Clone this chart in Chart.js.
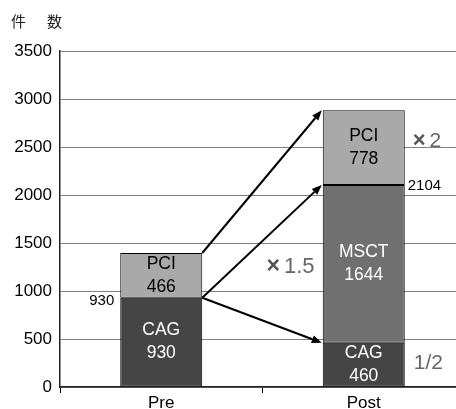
<!DOCTYPE html>
<html>
<head>
<meta charset="utf-8">
<script src="https://cdn.jsdelivr.net/npm/chart.js@4/dist/chart.umd.min.js"></script>
<style>
  html, body { margin: 0; padding: 0; background: #fff; overflow: hidden; }
  #wrap { width: 456px; height: 409px; overflow: hidden; }
  canvas { display: block; }
</style>
</head>
<body>
<div id="wrap"><canvas id="c" width="470" height="409"></canvas></div>
<script>
// Procedure counts before and after introduction of MSCT
const categories = ['Pre', 'Post'];
const cagValues  = [930, 460];
const msctValues = [null, 1644];
const pciValues  = [466, 778];
const yTickStep = 500;
const yMax = 3500;
const yTitle = ['件', '数'];
const ratioLabels = ['×2', '×1.5', '1/2'];

const FONT = '"Liberation Sans", Arial, sans-serif';

// stack top of a category up to (and including) dataset index
function stackTop(chart, cat, upto) {
  let s = 0;
  for (let d = 0; d <= upto; d++) {
    const v = chart.data.datasets[d].data[cat];
    if (v != null) s += v;
  }
  return s;
}

const annotate = {
  id: 'annotate',
  afterDatasetsDraw(chart) {
    const ctx = chart.ctx;
    const y = chart.scales.y;
    const bars = chart.getDatasetMeta(0).data;
    const pre = bars[0], post = bars[1];
    const preRight = pre.x + pre.width / 2;
    const preLeft = pre.x - pre.width / 2;
    const postLeft = post.x - post.width / 2;
    const postRight = post.x + post.width / 2;

    // labels inside segments
    ctx.save();
    ctx.textAlign = 'center';
    ctx.textBaseline = 'middle';
    ctx.font = '17.5px ' + FONT;
    chart.data.datasets.forEach((ds, di) => {
      const meta = chart.getDatasetMeta(di);
      meta.data.forEach((el, i) => {
        const v = ds.data[i];
        if (v == null) return;
        const cy = (el.y + el.base) / 2;
        ctx.fillStyle = ds.textColor;
        ctx.fillText(ds.label, el.x, cy - 11.5);
        ctx.fillText(String(v), el.x, cy + 11.5);
      });
    });

    // cumulative value notes
    ctx.fillStyle = '#000';
    ctx.font = '15px ' + FONT;
    const preCag = stackTop(chart, 0, 0);
    ctx.textAlign = 'right';
    ctx.fillText(String(preCag), preLeft - 6, y.getPixelForValue(preCag) + 3);
    const postMid = stackTop(chart, 1, 1);
    ctx.textAlign = 'left';
    ctx.fillText(String(postMid), postRight + 3, y.getPixelForValue(postMid) + 1);

    // ratio notes
    ctx.textAlign = 'left';
    const drawRatio = (txt, x, v, size) => {
      const py = y.getPixelForValue(v);
      if (txt.startsWith('×')) {
        ctx.font = 'bold ' + (size + 1) + 'px ' + FONT;
        ctx.fillStyle = '#555';
        ctx.fillText('×', x, py);
        const w = ctx.measureText('×').width;
        ctx.font = size + 'px ' + FONT;
        ctx.fillStyle = '#666';
        ctx.fillText(txt.slice(1), x + w + 4, py);
      } else {
        ctx.font = size + 'px ' + FONT;
        ctx.fillStyle = '#666';
        ctx.fillText(txt, x, py);
      }
    };
    drawRatio(ratioLabels[0], postRight + 8, 2560, 21);
    drawRatio(ratioLabels[1], (preRight + postLeft) / 2 + 4, 1255, 22);
    drawRatio(ratioLabels[2], postRight + 9, 250, 21);

    // arrows from Pre stack levels to Post stack levels
    const arrows = [
      [stackTop(chart, 0, 2), stackTop(chart, 1, 2)],
      [stackTop(chart, 0, 0), stackTop(chart, 1, 1)],
      [stackTop(chart, 0, 0), stackTop(chart, 1, 0)]
    ];
    ctx.strokeStyle = '#000';
    ctx.fillStyle = '#000';
    ctx.lineWidth = 2;
    arrows.forEach(([from, to]) => {
      const x0 = preRight, y0 = y.getPixelForValue(from);
      const x1 = postLeft - 1, y1 = y.getPixelForValue(to);
      const ang = Math.atan2(y1 - y0, x1 - x0);
      const hl = 10, hw = 4;
      const bx = x1 - hl * Math.cos(ang), by = y1 - hl * Math.sin(ang);
      ctx.beginPath();
      ctx.moveTo(x0, y0);
      ctx.lineTo(bx, by);
      ctx.stroke();
      ctx.beginPath();
      ctx.moveTo(x1, y1);
      ctx.lineTo(bx + hw * Math.sin(ang), by - hw * Math.cos(ang));
      ctx.lineTo(bx - hw * Math.sin(ang), by + hw * Math.cos(ang));
      ctx.closePath();
      ctx.fill();
    });

    // axis title
    ctx.fillStyle = '#222';
    ctx.font = '15px "Noto Sans CJK JP", sans-serif';
    ctx.textAlign = 'left';
    ctx.textBaseline = 'middle';
    ctx.fillText(yTitle[0], 11, 21);
    ctx.fillText(yTitle[1], 47, 21);
    ctx.restore();
  }
};

new Chart(document.getElementById('c'), {
  type: 'bar',
  data: {
    labels: categories,
    datasets: [
      { label: 'CAG', data: cagValues, backgroundColor: '#454545', textColor: '#fff' },
      { label: 'MSCT', data: msctValues, backgroundColor: '#707070', textColor: '#fff' },
      { label: 'PCI', data: pciValues, backgroundColor: '#a9a9a9', textColor: '#000' }
    ].map(d => Object.assign(d, {
      borderColor: '#000', borderWidth: 1, borderSkipped: false,
      barPercentage: 0.405, categoryPercentage: 1
    }))
  },
  options: {
    responsive: false,
    animation: false,
    devicePixelRatio: 1,
    layout: { padding: { top: 51, right: 5, left: 0, bottom: 0 } },
    plugins: { legend: { display: false }, tooltip: { enabled: false } },
    scales: {
      x: {
        stacked: true,
        offset: true,
        grid: { offset: true, drawOnChartArea: false, drawTicks: true, tickLength: 6, color: '#000', lineWidth: 1 },
        border: { color: '#222', width: 1.5 },
        ticks: { color: '#000', font: { size: 17, family: FONT }, padding: 0 },
        afterFit(s) { s.height = 22; }
      },
      y: {
        stacked: true,
        min: 0,
        max: yMax,
        ticks: {
          stepSize: yTickStep, color: '#000', font: { size: 17, family: FONT }, padding: 8,
          callback: v => String(v)
        },
        grid: { color: '#808080', lineWidth: 1, drawTicks: false },
        border: { color: '#222', width: 1.5 },
        afterFit(s) { s.width = 60; }
      }
    }
  },
  plugins: [annotate]
});
</script>
</body>
</html>
